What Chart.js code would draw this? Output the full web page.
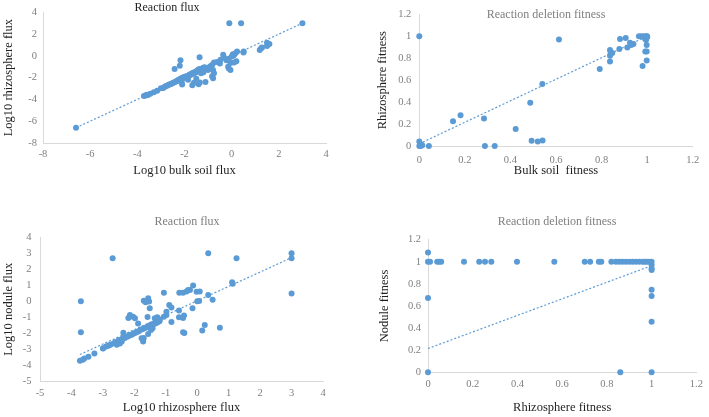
<!DOCTYPE html>
<html>
<head>
<meta charset="utf-8">
<script src="https://cdn.jsdelivr.net/npm/chart.js@4.4.1/dist/chart.umd.min.js"></script>
<style>
  html, body { margin: 0; padding: 0; background: #ffffff; }
  body { width: 709px; height: 417px; position: relative; overflow: hidden; }
  .panel { position: absolute; }
</style>
</head>
<body>
<div class="panel" style="left:0;top:0;width:354px;height:208px"><canvas id="c1" width="354" height="208"></canvas></div>
<div class="panel" style="left:354px;top:0;width:355px;height:208px"><canvas id="c2" width="355" height="208"></canvas></div>
<div class="panel" style="left:0;top:208px;width:354px;height:209px"><canvas id="c3" width="354" height="209"></canvas></div>
<div class="panel" style="left:354px;top:208px;width:355px;height:209px"><canvas id="c4" width="355" height="209"></canvas></div>
<script>
// ---------------- DATA ----------------
// Panel 1: Reaction flux (bulk soil vs rhizosphere, log10)
const p1BulkFlux = [-6.6,
  -3.72,-3.65,-3.6,-3.55,-3.45,-3.3,-3.16,-3.0,-2.9,-2.85,-2.8,-2.75,-2.7,-2.65,-2.6,-2.55,-2.5,-2.45,-2.4,-2.35,-2.3,-2.28,-2.25,-2.2,-2.18,-2.15,-2.12,-2.1,-2.08,-2.05,-2.02,-2.0,-1.95,-1.92,-1.9,-1.85,-1.8,-1.78,-1.75,-1.7,-1.68,-1.65,-1.62,-1.6,-1.58,-1.55,-1.52,-1.5,-1.48,-1.45,-1.42,-1.4,-1.38,-1.35,-1.3,-1.25,-1.2,-1.15,-1.04,
  -2.17,-2.2,-2.42,-1.36,-2.1,-2.12,-1.67,-1.6,-1.4,-1.35,-1.11,-0.83,-0.79,-0.79,-0.75,-0.97,-0.83,-0.9,-0.62,-0.75,-0.47,-0.5,-0.33,-0.22,-0.12,-0.05,0.09,0.16,0.23,0.51,0.5,0.2,0.1,-0.36,-0.12,-0.05,-0.15,0.0,0.05,1.19,1.29,1.5,1.5,1.6,1.25,-0.1,0.4,3.0,-1.85,-1.5,-1.3,-1.2,-1.0];
const p1RhizoFlux = [-6.6,
  -3.68,-3.64,-3.58,-3.6,-3.48,-3.33,-3.2,-2.98,-2.95,-2.86,-2.78,-2.74,-2.7,-2.62,-2.6,-2.55,-2.48,-2.45,-2.4,-2.33,-2.3,-2.25,-2.22,-2.2,-2.1,-2.15,-2.05,-2.1,-2.0,-2.02,-1.95,-1.98,-1.9,-1.95,-1.88,-1.85,-1.78,-1.72,-1.75,-1.68,-1.6,-1.65,-1.55,-1.6,-1.5,-1.55,-1.45,-1.48,-1.4,-1.35,-1.3,-1.25,-1.32,-1.2,-1.25,-1.15,-1.1,-1.05,-1.15,
  -0.41,-0.91,-1.21,-0.12,-2.62,-2.4,-2.7,-2.47,-2.6,-2.45,-2.41,-1.88,-1.29,-2.05,-1.6,-1.06,-0.85,-0.95,-0.56,-0.6,-0.35,-0.7,-0.12,-0.41,-0.26,-0.65,0.03,0.24,0.41,0.41,0.3,-0.5,-0.6,0.1,-1.15,-1.29,-1.0,-0.05,0.15,0.53,0.76,0.9,1.2,1.1,0.7,3.0,3.0,3.0,-2.2,-2.1,-1.6,-1.5,-1.3];
const p1Trend = [1.0, 0.0];          // [slope, intercept] of the dotted linear trendline
const p1XTicks = [-8, -6, -4, -2, 0, 2, 4];
const p1YTicks = [-8, -6, -4, -2, 0, 2, 4];

// Panel 2: Reaction deletion fitness (bulk soil vs rhizosphere)
const p2BulkFit = [0,0,0,0.006,0.013,0.008,0.042,0.148,0.181,0.284,0.288,0.331,0.423,0.487,0.493,0.52,0.541,0.54,0.613,0.792,0.837,0.84,0.847,0.837,0.837,0.881,0.906,0.878,0.913,0.925,0.93,0.94,0.964,0.975,0.986,0.994,1,0.99,0.995,1,0.998,0.992,0.998,0.998,0.98];
const p2RhizoFit = [1,0.04,0,0,0.006,0.012,0,0.226,0.28,0.25,0,0,0.154,0.395,0.048,0.042,0.051,0.564,0.971,0.702,0.874,0.853,0.847,0.823,0.769,0.974,0.983,0.883,0.898,0.94,0.92,0.93,1.0,1,1,1,1,0.98,0.965,0.99,0.92,0.86,0.86,0.778,0.73];
const p2Trend = [0.98, 0.02];
const p2XTicks = [0, 0.2, 0.4, 0.6, 0.8, 1, 1.2];
const p2YTicks = [0, 0.2, 0.4, 0.6, 0.8, 1, 1.2];

// Panel 3: Reaction flux (rhizosphere vs nodule, log10)
const p3RhizoFlux = [-3.7,-3.7,-3.73,-3.64,-3.59,-3.46,-3.27,-2.69,-2.99,-2.9,-2.56,-2.46,-2.4,-2.35,-2.14,-2.04,-1.98,-1.88,-2.19,-1.7,-1.56,-1.53,-1.64,-1.51,-1.58,-1.77,-1.72,-1.7,-1.56,-1.47,-1.42,-1.35,-1.27,-1.19,-1.23,-1.06,-0.98,-1.06,-0.98,-0.89,-0.82,-0.82,-0.57,-0.45,-0.34,-0.29,-0.23,-0.13,-0.02,0.08,-0.58,-0.58,-0.45,-0.42,-0.45,-0.41,-0.15,0.0,0.06,0.35,0.49,0.24,0.16,0.72,1.11,1.13,1.25,0.35,3,3,3,
  -3.0,-2.85,-2.8,-2.75,-2.65,-2.6,-2.55,-2.5,-2.45,-2.4,-2.35,-2.3,-2.25,-2.2,-2.15,-2.1,-2.05,-2.0,-1.95,-1.9,-1.85,-1.8,-1.75,-1.7,-1.65,-1.6,-1.55,-1.5,-1.45,-1.4,-1.35,-1.3,-1.25,-1.2];
const p3NoduleFlux = [0,-1.94,-3.71,-3.65,-3.58,-3.46,-3.27,2.69,-2.94,-2.83,-2.71,-2.63,-2.52,-1.96,-0.85,-0.96,-1.06,-1.38,-1.04,0.04,0.19,-0.02,-0.06,-0.44,-0.98,-2.31,-2.52,-2.29,-2.04,-1.79,-1.69,-1.06,-1.0,-1.13,-1.25,0.54,-0.65,-0.96,-0.85,-0.23,-0.38,-1.29,0.54,0.54,0.62,0.71,0.71,0.98,0.6,0.62,-0.58,-1.0,-1.04,-0.88,-1.94,-1.98,-0.44,0.0,0.02,0.4,0.1,-1.48,-1.83,-1.66,1.19,1.1,2.69,3.0,3,2.69,0.48,
  -2.95,-2.8,-2.75,-2.7,-2.62,-2.55,-2.6,-2.45,-2.4,-2.38,-2.3,-2.3,-2.2,-2.2,-2.1,-2.1,-2.05,-2.0,-1.95,-1.9,-1.85,-1.78,-1.75,-1.7,-1.65,-1.62,-1.55,-1.5,-1.45,-1.42,-1.4,-1.35,-1.3,-1.25];
const p3Trend = [0.9, 0.03];
const p3XTicks = [-5, -4, -3, -2, -1, 0, 1, 2, 3, 4];
const p3YTicks = [-5, -4, -3, -2, -1, 0, 1, 2, 3, 4];

// Panel 4: Reaction deletion fitness (rhizosphere vs nodule)
const p4RhizoFit = [0,0,0.009,0.041,0.05,0.059,0,0,0.161,0.229,0.255,0.283,0.398,0.565,0.701,0.725,0.764,0.775,0.82,0.84,0.855,0.87,0.885,0.9,0.915,0.93,0.945,0.96,0.97,0.98,0.99,1,1,1,1,1,1,1,1,0.86];
const p4NoduleFit = [1.085,1,1,1,1,1,0.672,0,1,1,1,1,1,1,1,1,1,1,1,1,1,1,1,1,1,1,1,1,1,1,1,1,0.97,0.94,0.926,0.748,0.69,0.458,0,0];
const p4Trend = [0.75, 0.215];
const p4XTicks = [0, 0.2, 0.4, 0.6, 0.8, 1, 1.2];
const p4YTicks = [0, 0.2, 0.4, 0.6, 0.8, 1, 1.2];

// ---------------- STYLE ----------------
const BLUE = '#5b9bd5';
const AXIS = '#d9d9d9';
const TICK_COLOR = '#7f7f7f';
const SERIF = "'Liberation Serif', 'Times New Roman', serif";

const panelTitlePlugin = {
  id: 'panelTitle',
  afterDraw(chart, args, opts) {
    if (!opts || !opts.text) return;
    const ctx = chart.ctx;
    ctx.save();
    ctx.font = '12px ' + SERIF;
    ctx.fillStyle = opts.color;
    ctx.textAlign = 'center';
    ctx.textBaseline = 'middle';
    ctx.fillText(opts.text, opts.x, opts.y);
    ctx.restore();
  }
};

function pairs(xs, ys) { return xs.map((x, i) => ({ x: x, y: ys[i] })); }
function trendPoints(xs, coef) {
  const lo = Math.min(...xs), hi = Math.max(...xs);
  return [{ x: lo, y: coef[0] * lo + coef[1] }, { x: hi, y: coef[0] * hi + coef[1] }];
}

function makeChart(id, cfg) {
  const ctx = document.getElementById(id);
  const tickFont = { family: SERIF, size: 10.5 };
  const titleFont = { family: SERIF, size: 12.5 };
  return new Chart(ctx, {
    type: 'scatter',
    data: {
      datasets: [
        {
          type: 'line',
          data: trendPoints(cfg.xs, cfg.trend),
          borderColor: BLUE,
          borderWidth: 1.2,
          borderDash: [2, 2],
          pointRadius: 0,
          fill: false,
          tension: 0,
          clip: false
        },
        {
          data: pairs(cfg.xs, cfg.ys),
          backgroundColor: BLUE,
          borderColor: BLUE,
          borderWidth: 0,
          pointRadius: 3,
          pointHoverRadius: 3,
          clip: false
        }
      ]
    },
    plugins: [panelTitlePlugin],
    options: {
      responsive: false,
      animation: false,
      events: [],
      layout: { padding: { left: 0, top: cfg.area.top, right: cfg.area.right, bottom: 0 } },
      plugins: {
        legend: { display: false },
        tooltip: { enabled: false },
        title: { display: false },
        panelTitle: cfg.title
      },
      scales: {
        x: {
          type: 'linear',
          min: cfg.xTicks[0], max: cfg.xTicks[cfg.xTicks.length - 1],
          afterBuildTicks: s => { s.ticks = cfg.xTicks.map(v => ({ value: v })); },
          afterFit: s => { s.height = cfg.area.xh; },
          grid: { display: false, drawTicks: false },
          border: { display: true, color: AXIS, width: 1 },
          ticks: { color: TICK_COLOR, font: tickFont, padding: cfg.area.xpad, maxRotation: 0, autoSkip: false, callback: v => String(v) },
          title: { display: true, text: cfg.xTitle, color: '#1f1f1f', font: titleFont, padding: { top: 0, bottom: cfg.area.xtb } }
        },
        y: {
          type: 'linear',
          min: cfg.yTicks[0], max: cfg.yTicks[cfg.yTicks.length - 1],
          afterBuildTicks: s => { s.ticks = cfg.yTicks.map(v => ({ value: v })); },
          afterFit: s => { s.width = cfg.area.yw; },
          grid: { display: false, drawTicks: false },
          border: { display: true, color: AXIS, width: 1 },
          ticks: { color: TICK_COLOR, font: tickFont, padding: cfg.area.ypad, autoSkip: false, callback: v => String(v) },
          title: { display: true, text: cfg.yTitle, color: '#1f1f1f', font: titleFont, padding: { top: cfg.area.ytp, bottom: 0 } }
        }
      }
    }
  });
}

makeChart('c1', {
  xs: p1BulkFlux, ys: p1RhizoFlux, trend: p1Trend, xTicks: p1XTicks, yTicks: p1YTicks,
  xTitle: 'Log10 bulk soil flux', yTitle: 'Log10 rhizosphere flux',
  title: { text: 'Reaction flux', x: 167, y: 8, color: '#1f1f1f' },
  area: { top: 7, right: 28, yw: 43, xh: 65, xpad: 4.7, ypad: 6, xtb: 29.5, ytp: 0.8 }
});
makeChart('c2', {
  xs: p2BulkFit, ys: p2RhizoFit, trend: p2Trend, xTicks: p2XTicks, yTicks: p2YTicks,
  xTitle: 'Bulk soil  fitness', yTitle: 'Rhizosphere fitness',
  title: { text: 'Reaction deletion fitness', x: 192, y: 15, color: '#7f7f7f' },
  area: { top: 13.3, right: 16.3, yw: 65.3, xh: 62, xpad: 7.7, ypad: 8, xtb: 29.5, ytp: 20.8 }
});
makeChart('c3', {
  xs: p3RhizoFlux, ys: p3NoduleFlux, trend: p3Trend, xTicks: p3XTicks, yTicks: p3YTicks,
  xTitle: 'Log10 rhizosphere flux', yTitle: 'Log10 nodule flux',
  title: { text: 'Reaction flux', x: 187, y: 14, color: '#7f7f7f' },
  area: { top: 29.3, right: 31, yw: 40, xh: 35.7, xpad: 5.4, ypad: 8.5, xtb: 1.5, ytp: 0.8 }
});
makeChart('c4', {
  xs: p4RhizoFit, ys: p4NoduleFit, trend: p4Trend, xTicks: p4XTicks, yTicks: p4YTicks,
  xTitle: 'Rhizosphere fitness', yTitle: 'Nodule fitness',
  title: { text: 'Reaction deletion fitness', x: 203, y: 14, color: '#7f7f7f' },
  area: { top: 31.7, right: 8.3, yw: 74, xh: 44.7, xpad: 6.1, ypad: 7, xtb: 1.5, ytp: 23 }
});
</script>
</body>
</html>
